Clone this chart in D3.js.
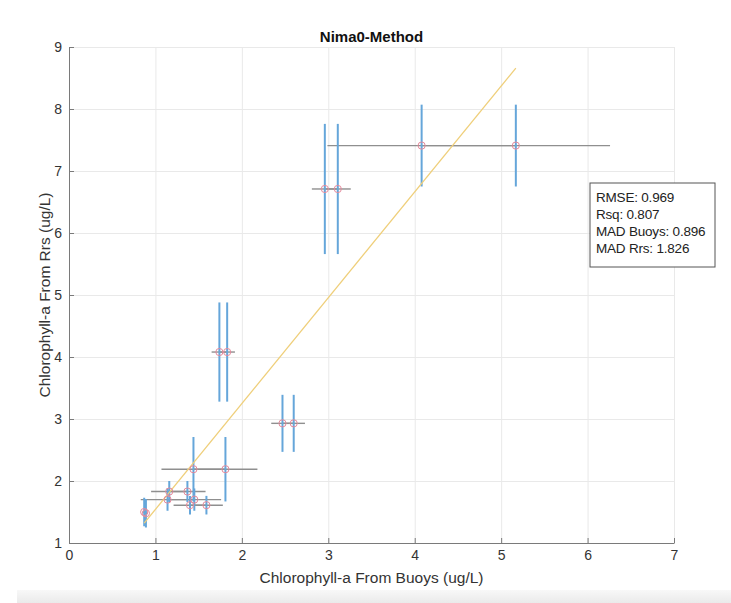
<!DOCTYPE html>
<html>
<head>
<meta charset="utf-8">
<script src="https://cdn.jsdelivr.net/npm/d3@7"></script>
<style>
  body { margin: 0; background: #fff; }
  svg { display: block; font-family: "Liberation Sans", Arial, sans-serif; }
</style>
</head>
<body>
<div id="chart"></div>
<script>
// chlorophyll from buoys (x) and from Rrs (y)
const buoyChl = [0.87, 0.89, 1.16, 1.37, 1.14, 1.45, 1.40, 1.59, 1.44, 1.81, 1.74, 1.83, 2.47, 2.60, 2.96, 3.11, 4.08, 5.17];
const rrsChl  = [1.50, 1.48, 1.83, 1.83, 1.70, 1.70, 1.61, 1.61, 2.19, 2.19, 4.08, 4.08, 2.93, 2.93, 6.71, 6.71, 7.41, 7.41];
const buoyErr = [0.02, 0.02, 0.21, 0.21, 0.31, 0.31, 0.19, 0.19, 0.37, 0.37, 0.09, 0.09, 0.13, 0.13, 0.15, 0.15, 1.09, 1.09];
const rrsErr  = [0.23, 0.23, 0.17, 0.17, 0.18, 0.18, 0.15, 0.15, 0.52, 0.52, 0.80, 0.80, 0.46, 0.46, 1.05, 1.05, 0.66, 0.66];

// fitted line end points
const fitX = [0.87, 5.17];
const fitY = [1.32, 8.66];

const xTicks = [0, 1, 2, 3, 4, 5, 6, 7];
const yTicks = [1, 2, 3, 4, 5, 6, 7, 8, 9];

const statLines = ['RMSE: 0.969', 'Rsq: 0.807', 'MAD Buoys: 0.896', 'MAD Rrs: 1.826'];

const width = 731;
const height = 603;
const margin = { top: 47, right: 57, bottom: 60, left: 69 };

const svg = d3.select('#chart')
  .append('svg')
  .attr('width', width)
  .attr('height', height)
  .attr('viewBox', [0, 0, width, height]);

const x = d3.scaleLinear()
  .domain([0, 7])
  .range([margin.left, width - margin.right]);

const y = d3.scaleLinear()
  .domain([1, 9])
  .range([height - margin.bottom, margin.top]);

const plotH = y(1) - y(9);
const plotW = x(7) - x(0);

// bottom gray strip (window chrome in the screenshot)
const grad = svg.append('defs').append('linearGradient')
  .attr('id', 'strip').attr('x1', 0).attr('y1', 0).attr('x2', 0).attr('y2', 1);
grad.append('stop').attr('offset', '0%').attr('stop-color', '#f8f8f8');
grad.append('stop').attr('offset', '100%').attr('stop-color', '#eaeaea');
svg.append('rect')
  .attr('x', 17).attr('y', 590)
  .attr('width', width - 17).attr('height', height - 590)
  .attr('fill', 'url(#strip)');

// grid
svg.append('g')
  .attr('transform', `translate(0,${y(1)})`)
  .call(d3.axisBottom(x).tickValues(xTicks).tickSize(-plotH).tickFormat(''))
  .call(g => g.select('.domain').remove())
  .selectAll('line').attr('stroke', '#e9e9e9');

svg.append('g')
  .attr('transform', `translate(${x(0)},0)`)
  .call(d3.axisLeft(y).tickValues(yTicks).tickSize(-plotW).tickFormat(''))
  .call(g => g.select('.domain').remove())
  .selectAll('line').attr('stroke', '#e9e9e9');

// axes, ticks point inward
const xAxis = svg.append('g')
  .attr('transform', `translate(0,${y(1)})`)
  .call(d3.axisBottom(x).tickValues(xTicks).tickFormat(d3.format('d'))
    .tickSize(-5).tickPadding(7).tickSizeOuter(0));
const yAxis = svg.append('g')
  .attr('transform', `translate(${x(0)},0)`)
  .call(d3.axisLeft(y).tickValues(yTicks).tickFormat(d3.format('d'))
    .tickSize(-5).tickPadding(7).tickSizeOuter(0));

[xAxis, yAxis].forEach(a => {
  a.select('.domain').attr('stroke', '#7a7a7a');
  a.selectAll('line').attr('stroke', '#7a7a7a');
  a.selectAll('text')
    .attr('fill', '#333')
    .attr('font-size', '14px')
    .attr('font-family', '"Liberation Sans", Arial, sans-serif');
});

const pts = buoyChl.map((d, i) => ({ bx: d, ry: rrsChl[i], ex: buoyErr[i], ey: rrsErr[i] }));

// horizontal error bars
svg.append('g')
  .selectAll('line')
  .data(pts)
  .join('line')
  .attr('x1', d => x(d.bx - d.ex))
  .attr('x2', d => x(d.bx + d.ex))
  .attr('y1', d => y(d.ry))
  .attr('y2', d => y(d.ry))
  .attr('stroke', '#8f8f8f')
  .attr('stroke-width', 1.4);

// vertical error bars
svg.append('g')
  .selectAll('line')
  .data(pts)
  .join('line')
  .attr('x1', d => x(d.bx))
  .attr('x2', d => x(d.bx))
  .attr('y1', d => y(d.ry - d.ey))
  .attr('y2', d => y(d.ry + d.ey))
  .attr('stroke', '#65a6da')
  .attr('stroke-width', 2);

// regression line
svg.append('line')
  .attr('x1', x(fitX[0])).attr('y1', y(fitY[0]))
  .attr('x2', x(fitX[1])).attr('y2', y(fitY[1]))
  .attr('stroke', '#efcf7a')
  .attr('stroke-width', 1.3);

// markers
svg.append('g')
  .selectAll('circle')
  .data(pts)
  .join('circle')
  .attr('cx', d => x(d.bx))
  .attr('cy', d => y(d.ry))
  .attr('r', 3.6)
  .attr('fill', 'none')
  .attr('stroke', '#e58a9c')
  .attr('stroke-width', 1);

// title and labels
svg.append('text')
  .attr('x', x(3.5)).attr('y', 42)
  .attr('text-anchor', 'middle')
  .attr('font-size', '15px')
  .attr('font-weight', 'bold')
  .attr('fill', '#111')
  .text('Nima0-Method');

svg.append('text')
  .attr('x', x(3.5)).attr('y', 583)
  .attr('text-anchor', 'middle')
  .attr('font-size', '15.5px')
  .attr('fill', '#333')
  .text('Chlorophyll-a From Buoys (ug/L)');

svg.append('text')
  .attr('transform', `translate(50,${(y(1) + y(9)) / 2}) rotate(-90)`)
  .attr('text-anchor', 'middle')
  .attr('font-size', '15.5px')
  .attr('fill', '#333')
  .text('Chlorophyll-a From Rrs (ug/L)');

// stats box
const box = svg.append('g').attr('transform', 'translate(590,183)');
box.append('rect')
  .attr('width', 125).attr('height', 84)
  .attr('fill', '#fff')
  .attr('stroke', '#555')
  .attr('stroke-width', 1);
box.selectAll('text')
  .data(statLines)
  .join('text')
  .attr('x', 6)
  .attr('y', (d, i) => 19 + i * 17)
  .attr('font-size', '13.5px')
  .attr('letter-spacing', '-0.2px')
  .attr('fill', '#222')
  .text(d => d);
</script>
</body>
</html>
